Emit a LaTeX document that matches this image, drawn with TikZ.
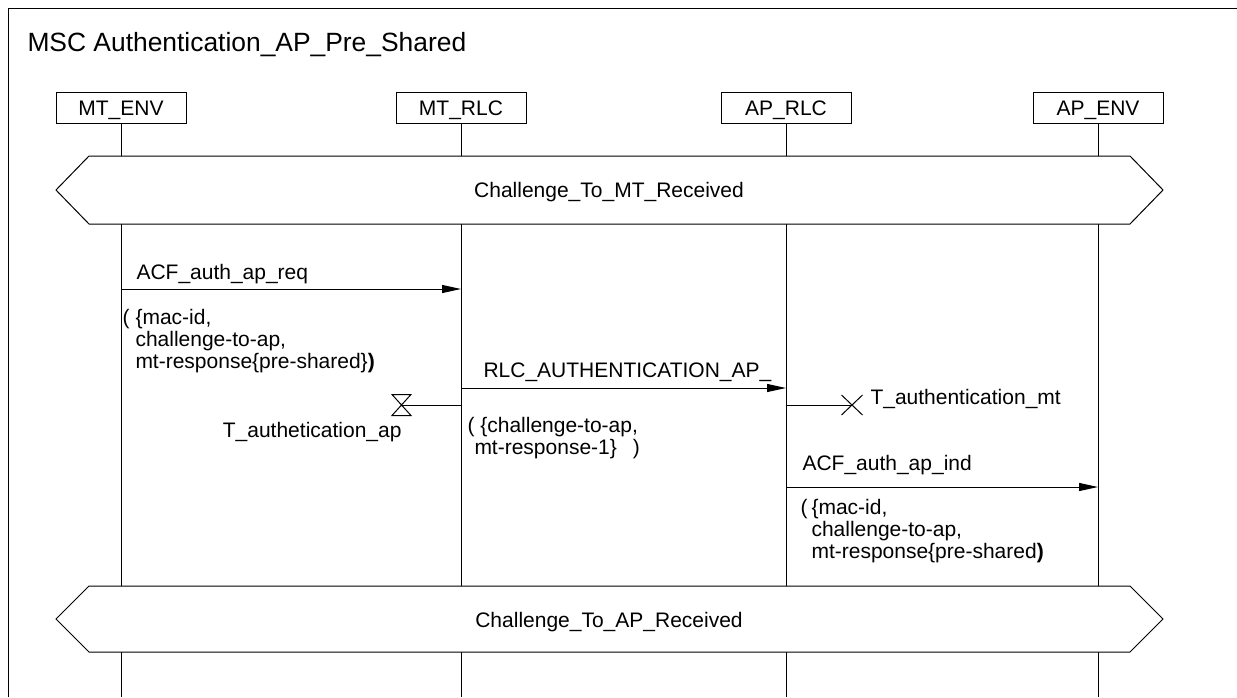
\documentclass[tikz,border=0pt]{standalone}
\usepackage{fontspec}
\setmainfont{Liberation Sans}
\usetikzlibrary{arrows.meta}
\begin{document}
\begin{tikzpicture}[x=1pt,y=-1pt,line width=1pt,
	every node/.style={inner sep=0,font=\fontsize{21}{22}\selectfont,text height=15pt,text depth=0pt},
	inst/.style={draw,minimum width=130pt,minimum height=31pt},
	msg/.style={-{Triangle[length=19pt,width=8pt]}},
	cond/.style={draw,fill=white},
	txt/.style={anchor=west}]
\useasboundingbox (0,0) rectangle (1237,697);
\draw (8,697) -- (8,8) -- (1237,8);
\node[txt,font=\fontsize{26.4}{30}\selectfont,text height=19pt] (title) at (27,42) {MSC Authentication\_AP\_Pre\_Shared};
\node[inst] (mtenv) at (121,107.5) {MT\_ENV};
\node[inst] (mtrlc) at (461,107.5) {MT\_RLC};
\node[inst] (aprlc) at (786,107.5) {AP\_RLC};
\node[inst] (apenv) at (1098,107.5) {AP\_ENV};
\foreach \i in {mtenv,mtrlc,aprlc,apenv}
	\draw (\i) -- (\i |- 0,697);
\draw[cond] (56,190) -- (89,156) -- (1130,156) -- (1163,190) -- (1130,224) -- (89,224) -- cycle;
\node (mtrecv) at (609,190) {Challenge\_To\_MT\_Received};
\draw[cond] (56,619) -- (89,586) -- (1130,586) -- (1163,619) -- (1130,652) -- (89,652) -- cycle;
\node (aprecv) at (609,620) {Challenge\_To\_AP\_Received};
\draw[msg] (mtenv |- 0,289) -- (mtrlc |- 0,289);
\node[txt] (acfreq) at (136,272) {ACF\_auth\_ap\_req};
\node[txt] (reqp) at (122,317) {(};
\node[txt] (reqa) at (135,317) {\{mac-id,};
\node[txt] (reqb) at (135,339) {challenge-to-ap,};
\node[txt] (reqc) at (135,361) {mt-response\{pre-shared\}\textbf{)}};
\draw[msg] (mtrlc |- 0,388) -- (aprlc |- 0,388);
\node[txt] (rlcauth) at (483,370) {RLC\_AUTHENTICATION\_AP\_};
\node[txt] (rlca) at (467,425) {( \{challenge-to-ap,};
\node[txt] (rlcb) at (474,447) {mt-response-1\}\hspace{16pt})};
\coordinate (tapstop) at (401.5,405);
\draw (mtrlc |- tapstop) -- (tapstop);
\draw (tapstop) ++(-9.5,-10.5) -- ++(19,0) -- ++(-19,21) -- ++(19,0) -- cycle;
\node[anchor=east] (tap) at (402,430) {T\_authetication\_ap};
\coordinate (tmtset) at (852,405);
\draw (aprlc |- tmtset) -- (tmtset);
\draw (tmtset) ++(-10.5,-10) -- ++(21,20) (tmtset) ++(-10.5,10) -- ++(21,-20);
\node[txt] (tmt) at (870,397) {T\_authentication\_mt};
\draw[msg] (aprlc |- 0,487) -- (apenv |- 0,487);
\node[txt] (acfind) at (802,463) {ACF\_auth\_ap\_ind};
\node[txt] (indp) at (800,507) {(};
\node[txt] (inda) at (811,507) {\{mac-id,};
\node[txt] (indb) at (811,529) {challenge-to-ap,};
\node[txt] (indc) at (811,551) {mt-response\{pre-shared\textbf{)}};
\end{tikzpicture}
\end{document}
